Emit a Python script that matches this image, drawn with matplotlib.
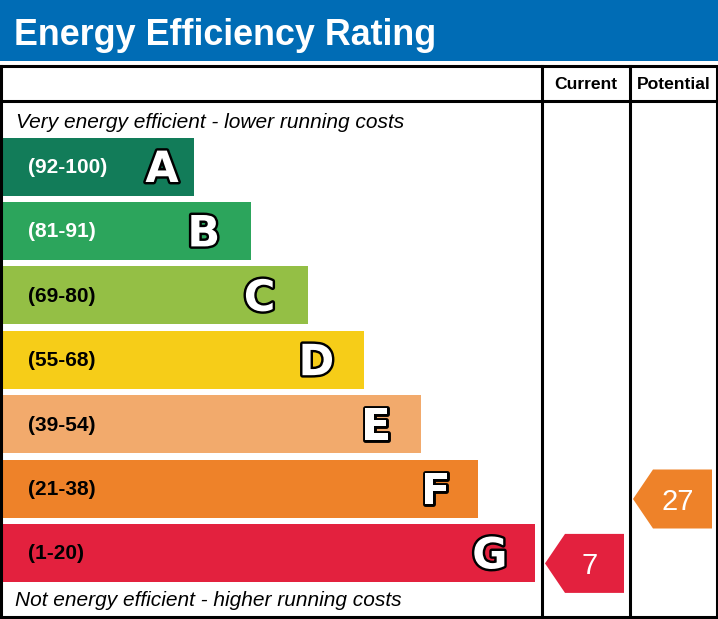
import matplotlib
matplotlib.use("Agg")
import matplotlib.pyplot as plt
from matplotlib.patches import Polygon, Rectangle
import matplotlib.patheffects as pe

# ---- data ----
bands = ["A", "B", "C", "D", "E", "F", "G"]
ranges = ["(92-100)", "(81-91)", "(69-80)", "(55-68)", "(39-54)", "(21-38)", "(1-20)"]
band_lows = [92, 81, 69, 55, 39, 21, 1]
band_colors = ["#127c59", "#2ca55c", "#94bf45", "#f6cd18", "#f2aa6c", "#ee8229", "#e3213e"]
range_text_colors = ["white", "white", "black", "black", "black", "black", "black"]
current_rating = 7
potential_rating = 27
title = "Energy Efficiency Rating"
top_note = "Very energy efficient - lower running costs"
bottom_note = "Not energy efficient - higher running costs"
col_headers = ["Current", "Potential"]

plt.rcParams['font.family'] = ['Liberation Sans', 'DejaVu Sans']

W, H = 718, 619
fig = plt.figure(figsize=(W / 100, H / 100), dpi=100)
ax = fig.add_axes([0, 0, 1, 1])
ax.set_xlim(0, W)
ax.set_ylim(H, 0)
ax.axis("off")

# header
ax.add_patch(Rectangle((0, 0), W, 61, facecolor="#006cb5", edgecolor="none"))
ax.text(14, 45, title, color="white", fontsize=25.8, fontweight="bold", va="baseline", ha="left")

# layout
bar_left = 2
bar_h = 58
pitch = 64.4
first_center = 166.5
first_right = 194
right_step = 56.8
centers = [first_center + pitch * i for i in range(len(bands))]
rights = [first_right + right_step * i for i in range(len(bands))]
widths = [r - bar_left for r in rights]

ax.barh(centers, widths, left=bar_left, height=bar_h, color=band_colors, edgecolor="none")

letter_offsets = [32, 47, 48, 48, 45, 42, 45]
for i, b in enumerate(bands):
    ax.text(28, centers[i] + 1, ranges[i], color=range_text_colors[i], fontsize=15,
            fontweight="bold", va="center", ha="left")
    t = ax.text(rights[i] - letter_offsets[i], centers[i] + 15.5, b, color="white", fontsize=31,
                fontweight="bold", va="baseline", ha="center", family="DejaVu Sans")
    t.set_path_effects([pe.withStroke(linewidth=3.5, foreground="black")])

ax.text(16, 128, top_note, fontsize=15, style="italic", va="baseline", ha="left", color="black")
ax.text(15, 606, bottom_note, fontsize=15, style="italic", va="baseline", ha="left", color="black")

# frame
lw = 2.2
box_top, box_bot, box_left, box_right = 66, 617, 1.2, 716.5
row_line = 101
col1, col2 = 542, 630
ax.plot([box_left, box_right, box_right, box_left, box_left],
        [box_top, box_top, box_bot, box_bot, box_top], color="black", lw=lw, solid_joinstyle="miter")
ax.plot([box_left, box_right], [row_line, row_line], color="black", lw=lw)
ax.plot([col1, col1], [box_top, box_bot], color="black", lw=lw)
ax.plot([col2, col2], [box_top, box_bot], color="black", lw=lw)

ax.text((col1 + col2) / 2, 89, col_headers[0], fontsize=12.6, fontweight="bold", ha="center", va="baseline")
ax.text((col2 + box_right) / 2 + 1, 89, col_headers[1], fontsize=12.6, fontweight="bold", ha="center", va="baseline")


def band_index(r):
    for i, lo in enumerate(band_lows):
        if r >= lo:
            return i
    return len(band_lows) - 1


def arrow(col_left, rating):
    i = band_index(rating)
    cy = centers[i] + 10.5
    h = 59
    tip = col_left + 3
    body = col_left + 23
    right = col_left + 82
    poly = Polygon([(tip, cy), (body, cy - h / 2), (right, cy - h / 2),
                    (right, cy + h / 2), (body, cy + h / 2)], closed=True,
                   facecolor=band_colors[i], edgecolor="none")
    ax.add_patch(poly)
    ax.text(col_left + 48, cy + 10.5, str(rating), color="white", fontsize=21,
            ha="center", va="baseline")


arrow(col1, current_rating)
arrow(col2, potential_rating)

fig.savefig("out.png", dpi=100)
